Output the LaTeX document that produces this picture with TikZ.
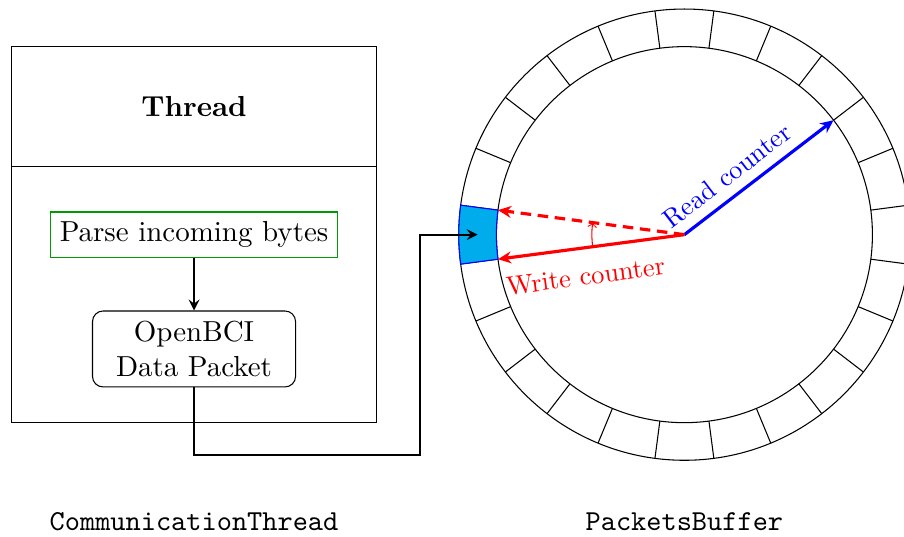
\documentclass[tikz,border=0pt,11pt]{standalone}
\usepackage{tikz}
\usetikzlibrary{arrows,arrows.meta,positioning}
\definecolor{slotcolor}{RGB}{0,172,236}

\begin{document}
\begin{tikzpicture}[
    >=stealth,
    box/.style={rectangle, draw, minimum width=4.86cm, align=center},
    proc/.style={rectangle, draw=green!60!black, align=center},
    packet/.style={rectangle, draw, rounded corners, minimum width=2.7cm, align=center},
    counter/.style={-{Stealth[length=5pt, width=4.5pt]}, very thick},
]
    \useasboundingbox (-9.10,-4.01) rectangle (2.92,3.12);
    \clip (-9.10,-4.01) rectangle (2.92,3.12);

    % Thread
    \node[box, minimum height=1.6cm, font=\bfseries] (header) at (-6.52,1.7) {Thread};
    \node[box, minimum height=3.4cm] (body) at (-6.52,-0.8) {};
    \node[proc] (parse) at (-6.52,0) {Parse incoming bytes};
    \node[packet] (packet) at (-6.52,-1.52) {OpenBCI\\Data Packet};

    % Buffer
    \draw (0,0) circle (3) (0,0) circle (2.5);
    \foreach \a in {7.5,22.5,...,352.5}
        \draw (\a:2.5) -- (\a:3);
    \filldraw[fill=slotcolor, draw=blue] (172.5:2.5) arc (172.5:187.5:2.5) -- (187.5:3) arc (187.5:172.5:3) -- cycle;

    \coordinate (hub) at (0,0);
    \coordinate (slot) at (180:2.75);
    \coordinate (readpos) at (37.5:2.5);
    \coordinate (writepos) at (187.5:2.5);
    \coordinate (nextpos) at (172.5:2.5);
    \coordinate (low) at (-3.51,-2.93);

    % Counters
    \draw[counter, blue] (hub) -- (readpos) node[pos=0.37, above, sloped, font=\small] (readlabel) {Read counter};
    \draw[counter, red, dash pattern=on 4pt off 2.5pt] (hub) -- (nextpos);
    \draw[counter, red] (hub) -- (writepos) node[pos=0.55, below=3pt, sloped, font=\small] (writelabel) {Write counter};
    \draw[red, -to] (187.5:1.23) arc (187.5:172.5:1.23);

    % Arrows
    \draw[->, thick] (parse) -- (packet);
    \draw[->, thick] (packet.south) |- (low) |- (slot);

    % Labels
    \node[font=\ttfamily] (commlabel) at (-6.52,-3.82) {CommunicationThread};
    \node[font=\ttfamily] (bufferlabel) at (0,-3.82) {PacketsBuffer};
\end{tikzpicture}
\end{document}
